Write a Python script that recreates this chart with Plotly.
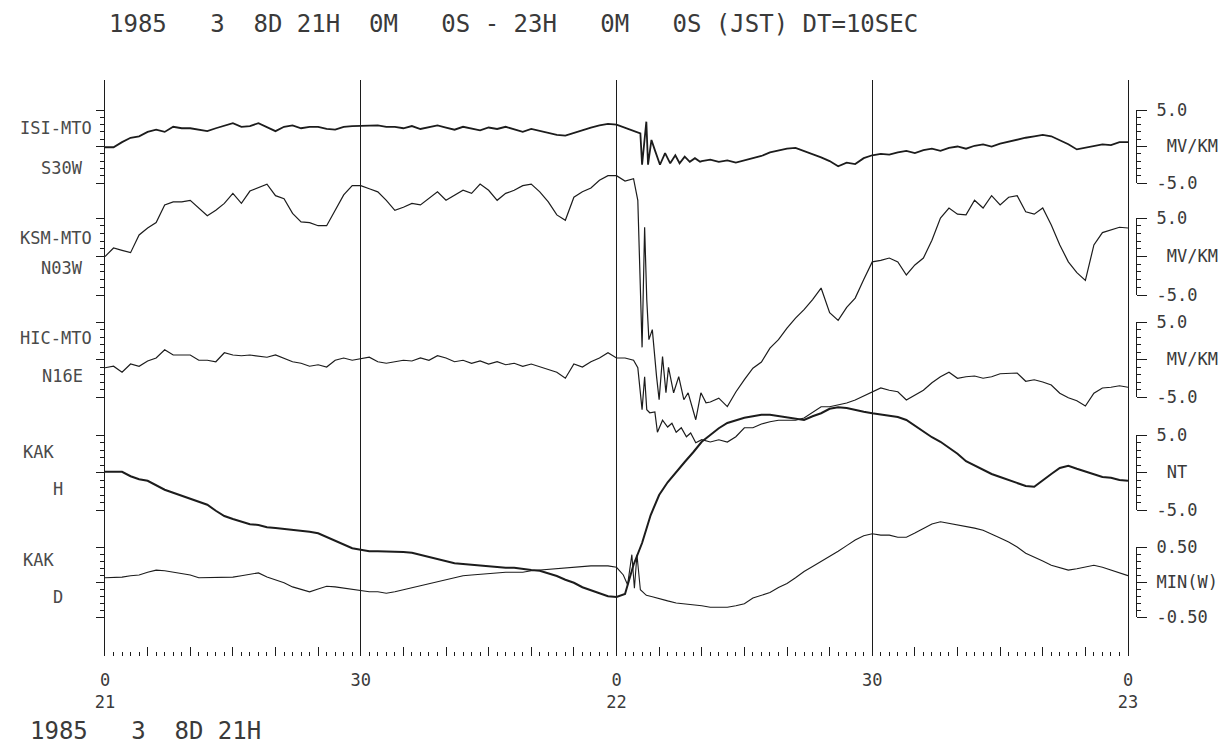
import plotly.graph_objects as go

# ---------------- data: minutes after 1985-03-08 21H 00M (JST) ----------------
isi_t = list(range(0, 63)) + [62.8, 63.0, 63.5, 63.7, 64.1, 64.5, 65.1, 65.7, 66.3, 66.9,
                              67.4, 68.0, 68.6, 69.2, 69.8] + list(range(70, 121))
isi_v = [-0.1, -0.1, 0.6, 1.2, 1.4, 2.0, 2.3, 2.0, 2.7, 2.5,
         2.5, 2.3, 2.1, 2.5, 2.9, 3.2, 2.7, 2.8, 3.2, 2.7,
         2.1, 2.7, 2.9, 2.5, 2.7, 2.7, 2.4, 2.3, 2.7, 2.8,
         2.8, 2.9, 2.9, 2.7, 2.7, 2.5, 2.8, 2.4, 2.6, 2.9,
         2.6, 2.3, 2.7, 2.5, 2.2, 2.6, 2.4, 2.7, 2.3, 2.0,
         2.4, 2.1, 1.8, 1.6, 1.5, 1.9, 2.3, 2.6, 2.9, 3.1,
         3.0, 2.6, 2.1,
         1.8, -2.5, 3.4, -2.5, 0.9, -0.5, -2.5, -0.9, -2.3, -1.2,
         -2.3, -1.4, -2.1, -1.6, -2.1,
         -2.0, -1.8, -2.1, -1.9, -2.2, -1.9, -1.6, -1.3, -0.8, -0.5,
         -0.3, -0.2, -0.6, -1.0, -1.5, -2.0, -2.7, -2.2, -2.4, -1.6,
         -1.2, -1.0, -1.1, -0.8, -0.6, -0.9, -0.5, -0.3, -0.6, -0.2,
         0.0, -0.3, 0.1, 0.3, 0.0, 0.4, 0.7, 0.9, 1.2, 1.4,
         1.6, 1.4, 0.9, 0.3, -0.4, -0.2, 0.0, 0.3, 0.2, 0.6,
         0.6]

ksm_t = list(range(0, 63)) + [62.5, 63.0, 63.3, 63.55, 63.8, 64.2, 64.7, 65.0, 65.4, 65.8,
                              66.1, 66.7, 67.3, 67.9, 68.4, 69.3, 69.9, 70.5] + list(range(71, 121))
ksm_v = [0.0, 1.1, 0.8, 0.5, 2.8, 3.7, 4.4, 6.7, 7.1, 7.1,
         7.3, 6.3, 5.3, 6.0, 6.9, 8.2, 6.9, 8.5, 9.0, 9.4,
         7.9, 7.5, 5.6, 4.5, 4.4, 4.0, 4.0, 6.0, 8.0, 9.2,
         9.2, 8.8, 8.4, 7.3, 6.0, 6.4, 6.9, 6.7, 7.6, 8.4,
         7.3, 7.9, 8.6, 8.2, 9.4, 8.6, 7.3, 8.2, 8.6, 9.2,
         9.4, 8.4, 7.1, 5.4, 4.7, 7.7, 8.4, 8.9, 9.9, 10.5,
         10.5, 9.8, 10.1,
         7.3, -11.8, 3.8, -5.6, -10.8, -9.5, -15.6, -18.6, -13.0, -17.7,
         -14.4, -17.7, -15.6, -18.6, -17.7, -21.2, -17.7, -19.0,
         -18.9, -18.4, -19.5, -17.6, -16.0, -14.5, -13.7, -11.9, -10.8,
         -9.3, -8.0, -6.9, -5.6, -4.1, -7.3, -8.3, -6.6, -5.4, -3.0,
         -0.7, -0.5, -0.2, -0.7, -2.4, -1.1, -0.2, 2.1, 5.0, 6.3,
         5.5, 5.4, 7.3, 6.3, 7.9, 6.7, 7.7, 7.9, 5.8, 5.5,
         6.3, 4.1, 1.5, -0.7, -2.1, -3.1, 1.5, 3.1, 3.4, 3.8,
         3.7]

hic_t = list(range(0, 63)) + [62.5, 63.0, 63.3, 63.55, 63.9, 64.5, 64.8, 65.4, 66.0, 66.5,
                              67.0, 67.6, 68.2, 68.7, 69.3] + list(range(70, 121))
hic_v = [-1.1, -0.9, -1.7, -0.6, -0.9, -0.2, 0.2, 1.3, 0.6, 0.6,
         0.6, -0.1, -0.1, -0.3, 0.9, 0.6, 0.5, 0.6, 0.5, 0.3,
         0.6, 0.2, -0.3, -0.5, -0.9, -0.7, -1.0, -0.1, 0.2, -0.1,
         0.1, 0.3, -0.3, -0.5, -0.3, -0.1, -0.2, 0.2, -0.1, 0.5,
         0.2, -0.3, -0.1, -0.5, -0.2, -0.6, -0.3, -0.7, -0.5, -0.9,
         -0.6, -1.0, -1.4, -1.7, -2.5, -0.6, -1.0, -0.3, 0.2, 0.9,
         0.2, 0.2, -0.1,
         -1.1, -6.7, -2.3, -6.7, -7.1, -7.0, -9.7, -8.1, -9.0, -8.5,
         -9.7, -9.1, -10.3, -9.8, -11.1,
         -10.7, -11.0, -10.7, -11.0, -10.3, -9.1, -9.1, -8.6, -8.3, -8.1,
         -8.1, -8.1, -7.8, -7.1, -6.3, -6.3, -6.1, -5.8, -5.4, -4.9,
         -4.3, -3.8, -4.1, -4.3, -5.4, -4.7, -4.1, -3.1, -2.3, -1.7,
         -2.5, -2.3, -2.2, -2.5, -2.3, -1.9, -1.8, -1.8, -2.9, -2.7,
         -3.0, -3.4, -4.5, -5.1, -5.5, -6.2, -4.5, -3.8, -3.7, -3.5,
         -3.7]

kakh_t = list(range(0, 121))
kakh_v = [0.1, 0.1, 0.1, -0.5, -0.9, -1.1, -1.7, -2.3, -2.7, -3.1,
          -3.5, -3.8, -4.3, -5.1, -5.8, -6.2, -6.6, -6.9, -7.0, -7.3,
          -7.4, -7.5, -7.7, -7.8, -7.9, -8.1, -8.6, -9.0, -9.5, -10.1,
          -10.3, -10.5, -10.5, -10.5, -10.5, -10.6, -10.7, -11.0, -11.3, -11.5,
          -11.8, -12.1, -12.2, -12.3, -12.5, -12.5, -12.6, -12.7, -12.7, -12.9,
          -13.0, -13.1, -13.4, -13.8, -14.3, -14.7, -15.3, -15.7, -16.2, -16.5,
          -16.6, -16.2, -12.3, -9.4, -5.7, -3.0, -1.3, 0.1, 1.4, 2.7,
          4.1, 5.0, 5.9, 6.6, 7.0, 7.3, 7.5, 7.7, 7.7, 7.5,
          7.3, 7.1, 7.0, 7.5, 7.9, 8.5, 8.7, 8.6, 8.3, 8.1,
          7.9, 7.7, 7.5, 7.4, 7.0, 6.2, 5.5, 4.7, 4.1, 3.3,
          2.5, 1.5, 0.9, 0.3, -0.2, -0.6, -1.0, -1.3, -1.8, -1.9,
          -1.0, -0.2, 0.6, 0.9, 0.5, 0.1, -0.3, -0.6, -0.7, -1.0,
          -1.1]

kakd_t = list(range(0, 61)) + [60.8, 61.3, 61.8, 62.1, 62.4, 62.8, 63.5, 64.2] + list(range(65, 121))
kakd_v = [0.06, 0.06, 0.07, 0.09, 0.10, 0.14, 0.17, 0.16, 0.14, 0.11,
          0.10, 0.06, 0.06, 0.06, 0.06, 0.07, 0.09, 0.11, 0.13, 0.07,
          0.03, -0.01, -0.07, -0.11, -0.14, -0.10, -0.06, -0.07, -0.09, -0.11,
          -0.13, -0.14, -0.14, -0.16, -0.14, -0.11, -0.09, -0.06, -0.03, 0.00,
          0.03, 0.06, 0.09, 0.10, 0.11, 0.13, 0.13, 0.14, 0.14, 0.14,
          0.16, 0.17, 0.19, 0.20, 0.21, 0.21, 0.23, 0.23, 0.23, 0.23,
          0.21,
          0.10, -0.04, 0.39, -0.09, 0.39, -0.11, -0.19, -0.21,
          -0.24, -0.27, -0.30, -0.31, -0.33,
          -0.34, -0.36, -0.36, -0.36, -0.34, -0.31, -0.23, -0.19, -0.15, -0.08,
          -0.02, 0.06, 0.15, 0.22, 0.29, 0.37, 0.44, 0.52, 0.60, 0.66,
          0.69, 0.67, 0.67, 0.64, 0.64, 0.70, 0.77, 0.83, 0.86, 0.84,
          0.81, 0.79, 0.77, 0.74, 0.69, 0.63, 0.57, 0.50, 0.41, 0.36,
          0.30, 0.24, 0.20, 0.17, 0.19, 0.21, 0.24, 0.21, 0.17, 0.13,
          0.09]

panel_names = ["ISI-MTO", "KSM-MTO", "HIC-MTO", "KAK", "KAK"]
panel_comps = ["S30W", "N03W", "N16E", "H", "D"]
panel_units = ["MV/KM", "MV/KM", "MV/KM", "NT", "MIN(W)"]
panel_top_labels = ["5.0", "5.0", "5.0", "5.0", "0.50"]
panel_bot_labels = ["-5.0", "-5.0", "-5.0", "-5.0", "-0.50"]
panel_scale = [5.0, 5.0, 5.0, 5.0, 0.5]

x_tick_vals = [0, 30, 60, 90, 120]
x_tick_text = ["0<br>21", "30", "0<br>22", "30", "0<br>23"]

title_text = "1985   3  8D 21H  0M   0S - 23H   0M   0S (JST) DT=10SEC"
footer_text = "1985   3  8D 21H"

# ---------------- layout geometry (pixels) ----------------
FIG_W, FIG_H = 1226, 745
PL, PR, PT, PB = 105, 1128, 80, 656
BRK_X = 1136
panel_rows = [(110, 183), (218, 295), (322, 397), (435, 510), (547, 617)]
unit_pad = ["\u00a0", "\u00a0", "\u00a0", "\u00a0", ""]
line_widths = [1.8, 1.2, 1.2, 2.0, 1.1]
INK = "#1c1c1c"
TEXT = "#3a3a3a"
MONO = "DejaVu Sans Mono"

x_dom = (PR - PL) / (BRK_X - PL)


def paper_x(px):
    return (px - PL) / (BRK_X - PL)


def paper_y(py):
    return (PB - py) / (PB - PT)


series = [(isi_t, isi_v), (ksm_t, ksm_v), (hic_t, hic_v), (kakh_t, kakh_v), (kakd_t, kakd_v)]

fig = go.Figure()
layout = dict(
    width=FIG_W, height=FIG_H, template="none",
    paper_bgcolor="white", plot_bgcolor="rgba(0,0,0,0)",
    margin=dict(l=PL, r=FIG_W - BRK_X, t=PT, b=FIG_H - PB, pad=0),
    showlegend=False,
    font=dict(family=MONO, color=INK),
)

# x2 carries the vertical half-hour lines (added first so it sits underneath)
fig.add_trace(go.Scatter(x=[None], y=[None], xaxis="x2", yaxis="y", hoverinfo="skip"))

for i, (ts, vs) in enumerate(series):
    yid = "y" if i == 0 else f"y{i + 1}"
    fig.add_trace(go.Scatter(x=ts, y=vs, mode="lines", xaxis="x", yaxis=yid,
                             line=dict(color=INK, width=line_widths[i]),
                             hoverinfo="skip"))
    S = panel_scale[i]
    a, b = panel_rows[i]
    k = 2 * S / (b - a)
    rng = [-S - (PB - b) * k, S + (a - PT) * k]
    minor_vals = [S * j / 5 for j in range(-4, 5) if j != 0]
    ax = dict(range=rng, domain=[0, 1], anchor="x", side="left",
              showgrid=False, zeroline=False, automargin=False, fixedrange=True,
              showline=(i == 0), mirror=(i == 0), linecolor=INK, linewidth=1.3,
              ticks="outside", tickmode="array", tickvals=[-S, 0, S], ticklen=8,
              tickwidth=1.1, tickcolor=INK, showticklabels=False,
              minor=dict(tickmode="array", tickvals=minor_vals, ticks="outside",
                         ticklen=4, tickwidth=1, tickcolor=INK, showgrid=False))
    if i > 0:
        ax["overlaying"] = "y"
    layout["yaxis" if i == 0 else f"yaxis{i + 1}"] = ax

    # right-hand scale bracket
    bid = 6 + i
    fig.add_trace(go.Scatter(x=[None], y=[None], xaxis="x", yaxis=f"y{bid}",
                             hoverinfo="skip"))
    layout[f"yaxis{bid}"] = dict(
        domain=[paper_y(b), paper_y(a)], range=[-S, S], anchor="free", position=1,
        side="right", showgrid=False, zeroline=False, automargin=False, fixedrange=True,
        showline=True, linecolor=INK, linewidth=1.2,
        ticks="outside", tickmode="array", tickvals=[S, 0, -S],
        ticktext=[panel_top_labels[i], unit_pad[i] + panel_units[i], panel_bot_labels[i]],
        ticklen=10, tickwidth=1.1, tickcolor=INK, ticklabelstandoff=6,
        tickfont=dict(family=MONO, size=17, color=TEXT),
        minor=dict(tickmode="array", tickvals=minor_vals, ticks="outside",
                   ticklen=4, tickwidth=1, tickcolor=INK, showgrid=False))

layout["xaxis"] = dict(
    domain=[0, x_dom], range=[0, 120], anchor="y", side="bottom",
    showgrid=False, zeroline=False, showline=False, automargin=False, fixedrange=True,
    tickmode="array", tickvals=list(range(0, 121, 5)),
    ticktext=[x_tick_text[x_tick_vals.index(v)] if v in x_tick_vals else "" for v in range(0, 121, 5)],
    ticks="inside", ticklen=9, tickwidth=1.1, tickcolor=INK, ticklabelstandoff=12,
    tickfont=dict(family=MONO, size=17, color=TEXT),
    minor=dict(dtick=1, ticks="inside", ticklen=4, tickwidth=1, tickcolor=INK, showgrid=False),
)
layout["xaxis2"] = dict(
    overlaying="x", range=[0, 120], anchor="y", side="bottom",
    showgrid=True, gridcolor=INK, gridwidth=1.3, zeroline=False, showline=False,
    tickmode="array", tickvals=x_tick_vals, showticklabels=False, ticks="",
    automargin=False, fixedrange=True,
)

annotations = [
    dict(text=title_text.replace(" ", "\u00a0"), xref="paper", yref="paper",
         x=paper_x(107), y=paper_y(24), xanchor="left", yanchor="middle", showarrow=False,
         font=dict(family=MONO, size=24, color=TEXT)),
    dict(text=footer_text.replace(" ", "\u00a0"), xref="paper", yref="paper",
         x=paper_x(28), y=paper_y(731), xanchor="left", yanchor="middle", showarrow=False,
         font=dict(family=MONO, size=24, color=TEXT)),
]
name_y = [128, 238, 338, 452, 560]
comp_y = [168, 268, 376, 489, 597]
name_cx = [56, 56, 56, 38, 38]
comp_cx = [62, 62, 62, 58, 58]
for i in range(5):
    annotations.append(dict(text=panel_names[i], xref="paper", yref="paper",
                            x=paper_x(name_cx[i]), y=paper_y(name_y[i]), xanchor="center",
                            yanchor="middle", showarrow=False,
                            font=dict(family=MONO, size=17, color="#4a4a4a")))
    annotations.append(dict(text=panel_comps[i], xref="paper", yref="paper",
                            x=paper_x(comp_cx[i]), y=paper_y(comp_y[i]), xanchor="center",
                            yanchor="middle", showarrow=False,
                            font=dict(family=MONO, size=17, color="#4a4a4a")))
layout["annotations"] = annotations

fig.update_layout(**layout)
fig.write_html("out.html")
